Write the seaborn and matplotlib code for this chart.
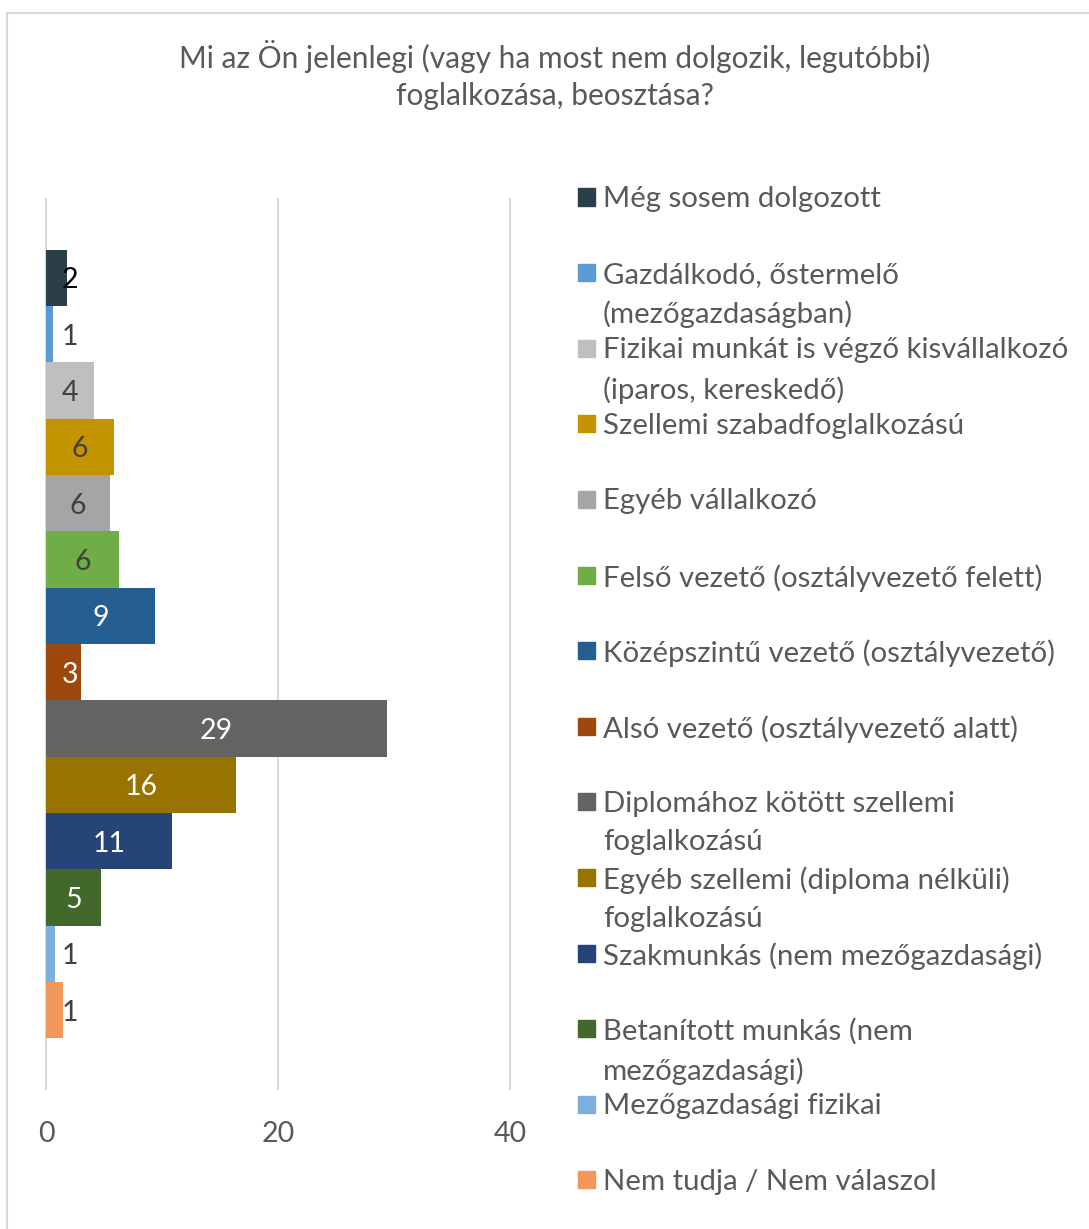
import matplotlib
matplotlib.use("Agg")
import matplotlib.pyplot as plt
import seaborn as sns
import pandas as pd
from matplotlib.patches import Rectangle

# data

categories = [
    "Még sosem dolgozott",
    "Gazdálkodó, őstermelő (mezőgazdaságban)",
    "Fizikai munkát is végző kisvállalkozó (iparos, kereskedő)",
    "Szellemi szabadfoglalkozású",
    "Egyéb vállalkozó",
    "Felső vezető (osztályvezető felett)",
    "Középszintű vezető (osztályvezető)",
    "Alsó vezető (osztályvezető alatt)",
    "Diplomához kötött szellemi foglalkozású",
    "Egyéb szellemi (diploma nélküli) foglalkozású",
    "Szakmunkás (nem mezőgazdasági)",
    "Betanított munkás (nem mezőgazdasági)",
    "Mezőgazdasági fizikai",
    "Nem tudja / Nem válaszol",
]
legend_labels = [
    "Még sosem dolgozott",
    "Gazdálkodó, őstermelő\n(mezőgazdaságban)",
    "Fizikai munkát is végző kisvállalkozó\n(iparos, kereskedő)",
    "Szellemi szabadfoglalkozású",
    "Egyéb vállalkozó",
    "Felső vezető (osztályvezető felett)",
    "Középszintű vezető (osztályvezető)",
    "Alsó vezető (osztályvezető alatt)",
    "Diplomához kötött szellemi\nfoglalkozású",
    "Egyéb szellemi (diploma nélküli)\nfoglalkozású",
    "Szakmunkás (nem mezőgazdasági)",
    "Betanított munkás (nem\nmezőgazdasági)",
    "Mezőgazdasági fizikai",
    "Nem tudja / Nem válaszol",
]
values = [1.84, 0.6, 4.15, 5.88, 5.52, 6.3, 9.4, 3.0, 29.4, 16.4, 10.9, 4.77, 0.79, 1.47]
colors = ["#2A3F47", "#5B9BD5", "#BFBFBF", "#C49400", "#A5A5A5", "#70AD47", "#255E91",
          "#9E480E", "#636363", "#997300", "#264478", "#43682B", "#7CAFDD", "#F1975A"]
label_colors = ["#000000", "#404040", "#404040", "#404040", "#404040", "#404040", "#FFFFFF",
                "#FFFFFF", "#FFFFFF", "#FFFFFF", "#FFFFFF", "#FFFFFF", "#404040", "#404040"]
xticks = [0, 20, 40]
title = "Mi az Ön jelenlegi (vagy ha most nem dolgozik, legutóbbi)\nfoglalkozása, beosztása?"

sns.set_theme(style="white")
plt.rcParams["font.family"] = ["Lato", "DejaVu Sans"]

df = pd.DataFrame({"kategoria": categories, "ertek": values})

W, H = 1089, 1229
fig = plt.figure(figsize=(W / 100, H / 100), dpi=100)
ax = fig.add_axes([(46 - 2.3) / W, (H - 1090) / H, (464 + 4.6) / W, (1090 - 198) / H])

sns.barplot(data=df, x="ertek", y="kategoria", hue="kategoria", order=categories,
            hue_order=categories, palette=colors, saturation=1, width=1, dodge=False,
            legend=False, linewidth=0, ax=ax)

ax.set_xlim(-0.2, 40.2)
ax.set_ylim(13.5 + 0.92, -0.5 - 0.92)
ax.set_xticks(xticks)
ax.set_yticks([])
ax.set_xlabel("")
ax.set_ylabel("")
ax.grid(axis="x", color="#D9D9D9", lw=1.5)
ax.set_axisbelow(True)
for s in ax.spines.values():
    s.set_visible(False)
ax.tick_params(axis="x", length=0, pad=22, labelsize=20.5, labelcolor="#595959")

# value labels
for i, v in enumerate(values):
    ax.text(max(v / 2, 2.07), i, f"{v:.0f}", ha="center", va="center_baseline",
            fontsize=20.5, color=label_colors[i])

# title
fig.text(554.5 / W, 1 - 75 / H, title, ha="center", va="center", fontsize=21.5,
         color="#595959", linespacing=1.42)

# legend (Excel style: equal slots, marker on first line)
for i, lab in enumerate(legend_labels):
    yc = 197 + i * 75.6
    fig.patches.append(Rectangle((578 / W, 1 - (yc + 8.5) / H), 17 / W, 17 / H,
                                 transform=fig.transFigure, color=colors[i]))
    fig.text(603 / W, 1 - (yc - 11) / H, lab, ha="left", va="top", fontsize=21.2,
             color="#595959", linespacing=1.57)

# chart border
fig.patches.append(Rectangle((7 / W, -0.1), 1.2, (H - 13) / H + 0.1, transform=fig.transFigure,
                             fill=False, ec="#D9D9D9", lw=1.5))

fig.savefig("out.png", dpi=100)
